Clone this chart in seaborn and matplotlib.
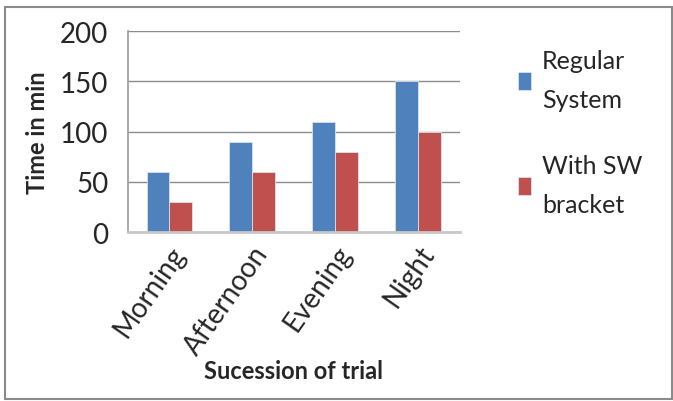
import matplotlib
matplotlib.use("Agg")
import matplotlib.pyplot as plt
import seaborn as sns
import pandas as pd
from matplotlib.patches import Rectangle

categories = ["Morning", "Afternoon", "Evening", "Night"]
regular_system = [60, 90, 110, 150]
with_sw_bracket = [30, 60, 80, 100]
series_names = ["Regular\nSystem", "With SW\nbracket"]
y_ticks = [0, 50, 100, 150, 200]

df = pd.DataFrame({
    "cat": categories * 2,
    "val": regular_system + with_sw_bracket,
    "series": [series_names[0]] * 4 + [series_names[1]] * 4,
})

sns.set_theme(style="white")
plt.rcParams["font.family"] = ["Lato", "DejaVu Sans"]

fig = plt.figure(figsize=(6.73, 4.02), dpi=100)
ax = fig.add_axes([0.19, 0.42, 0.493, 0.50])

sns.barplot(data=df, x="cat", y="val", hue="series", order=categories,
            hue_order=series_names, palette=["#4F81BD", "#C0504D"],
            width=0.55, gap=0, saturation=1, ax=ax, legend=True,
            edgecolor="#d8e2f0", linewidth=0.6)

ax.set_ylim(0, 200)
ax.set_xlim(-0.5, 3.5)
ax.set_yticks(y_ticks)
ax.set_yticklabels([str(t) for t in y_ticks], fontsize=20)
ax.yaxis.grid(True, color="#8c8c8c", linewidth=1.0)
ax.set_axisbelow(True)
for s in ["top", "right"]:
    ax.spines[s].set_visible(False)
ax.spines["left"].set_color("#a0a0a0")
ax.spines["bottom"].set_color("#c8c8c8")
ax.spines["bottom"].set_linewidth(2)
ax.tick_params(axis="y", length=0, pad=14)
ax.tick_params(axis="x", length=0, pad=6)
ax.set_xticks(range(len(categories)))
ax.set_xticklabels(categories, rotation=55, ha="right", rotation_mode="anchor",
                   fontsize=20)
ax.set_ylabel("Time in min", fontsize=17, fontweight="bold", labelpad=8)
ax.set_xlabel("Sucession of trial", fontsize=17, fontweight="bold", labelpad=0)

leg = ax.legend(loc="upper left", bbox_to_anchor=(0.755, 0.90),
                bbox_transform=fig.transFigure, frameon=False, fontsize=18,
                handlelength=0.5, handleheight=0.75, handletextpad=0.45,
                labelspacing=1.7, borderaxespad=0)
for t in leg.get_texts():
    t.set_linespacing(1.85)

fig.patches.append(Rectangle((0.008, 0.005), 0.99, 0.975, transform=fig.transFigure,
                             fill=False, edgecolor="#8a8a8a", linewidth=1.5))

fig.savefig("out.png", dpi=100)
